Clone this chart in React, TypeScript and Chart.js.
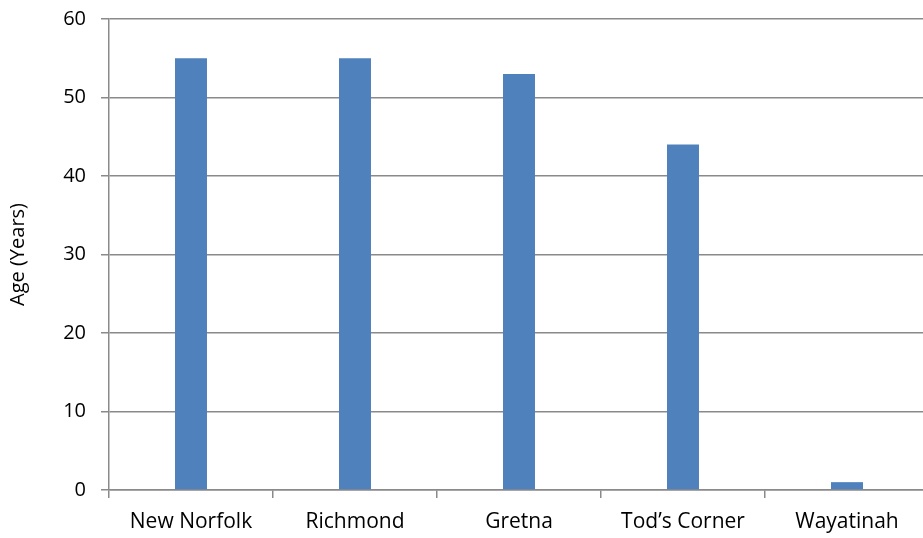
import React, { useEffect, useRef } from "react";
import { Chart, registerables } from "chart.js";

Chart.register(...registerables);

const categories = ["New Norfolk", "Richmond", "Gretna", "Tod\u2019s Corner", "Wayatinah"];
const ages = [55, 55, 53, 44, 1];
const yTicks = [0, 10, 20, 30, 40, 50, 60];

const FONT = "'Open Sans', sans-serif";
const AXIS_GREY = "#8a8a8a";

export default function App() {
  const canvasRef = useRef<HTMLCanvasElement | null>(null);

  useEffect(() => {
    const canvas = canvasRef.current;
    if (!canvas) return;
    const chart = new Chart(canvas, {
      type: "bar",
      data: {
        labels: categories,
        datasets: [
          {
            label: "Age (Years)",
            data: ages,
            backgroundColor: "#4F81BD",
            borderWidth: 0,
            barPercentage: 0.39,
            categoryPercentage: 0.5,
          },
        ],
      },
      options: {
        animation: false,
        responsive: false,
        maintainAspectRatio: false,
        layout: { padding: { top: 19, right: 0, bottom: 0, left: 0 } },
        plugins: {
          legend: { display: false },
          tooltip: { enabled: false },
        },
        scales: {
          x: {
            offset: true,
            grid: {
              offset: true,
              drawOnChartArea: false,
              drawTicks: true,
              tickLength: 8,
              color: AXIS_GREY,
              lineWidth: 1.5,
            },
            border: { display: true, color: AXIS_GREY, width: 1.5 },
            ticks: {
              color: "#000000",
              font: { family: FONT, size: 21 },
              padding: 11,
              maxRotation: 0,
              autoSkip: false,
            },
            afterFit: (scale: any) => {
              scale.height = 48;
              scale.paddingLeft = 0;
              scale.paddingRight = 0;
            },
          },
          y: {
            min: 0,
            max: 60,
            afterBuildTicks: (scale: any) => {
              scale.ticks = yTicks.map((v) => ({ value: v }));
            },
            grid: {
              drawTicks: true,
              tickLength: 8,
              color: AXIS_GREY,
              lineWidth: 1.5,
            },
            border: { display: true, color: AXIS_GREY, width: 1.5 },
            ticks: {
              color: "#000000",
              font: { family: FONT, size: 20 },
              padding: 15,
            },
            title: {
              display: true,
              text: "Age (Years)",
              color: "#000000",
              font: { family: FONT, size: 20 },
              padding: { top: 6, bottom: 0 },
            },
            afterFit: (scale: any) => {
              scale.width = 109;
              scale.paddingTop = 0;
              scale.paddingBottom = 0;
            },
          },
        },
      },
    });
    return () => chart.destroy();
  }, []);

  return (
    <div style={{ position: "fixed", left: 0, top: 0, width: 929, height: 538, background: "#fff" }}>
      <canvas ref={canvasRef} width={929} height={538} style={{ display: "block" }} />
    </div>
  );
}
